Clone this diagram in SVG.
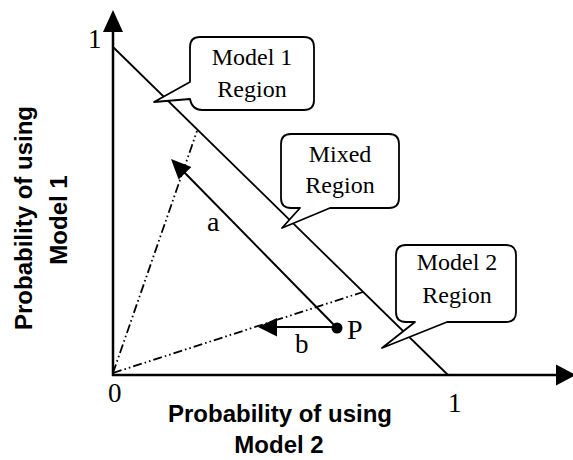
<svg xmlns="http://www.w3.org/2000/svg" width="573" height="460" viewBox="0 0 573 460">
<style>
.ln{stroke:#000;fill:none}
.call{stroke:#000;stroke-width:1.8;fill:#fff;stroke-linejoin:round}
.ser{font-family:"Liberation Serif","Times New Roman",serif;fill:#000}
.ax{font-family:"Liberation Sans",Arial,sans-serif;font-weight:bold;font-size:24px;fill:#000}
.dd{stroke:#000;stroke-width:1.8;fill:none;stroke-dasharray:9 3 1.6 3 1.6 3}
</style>
<rect width="573" height="460" fill="#fff"/>
<g id="connectors">
  <line class="ln" x1="113" y1="376" x2="113" y2="28" stroke-width="2.5"/>
  <polygon points="113,10 103,32 123,32" fill="#000"/>
  <line class="ln" x1="112" y1="375" x2="558" y2="375" stroke-width="2.5"/>
  <polygon points="576,375 556,364.5 556,385.5" fill="#000"/>
  <line class="ln" x1="113" y1="47" x2="448" y2="375" stroke-width="1.8"/>
  <line class="dd" x1="113" y1="373" x2="197" y2="131"/>
  <line class="dd" x1="113" y1="373" x2="363" y2="292"/>
  <line class="ln" x1="337" y1="328" x2="183" y2="171" stroke-width="2"/>
  <polygon points="171,159 191.4,167 178.6,179.6" fill="#000"/>
  <line class="ln" x1="333" y1="327" x2="275" y2="327" stroke-width="2"/>
  <polygon points="258,327 277,318 277,336.5" fill="#000"/>
</g>
<g id="pointP">
  <circle cx="337" cy="328" r="5.5" fill="#000"/>
  <text class="ser" x="347" y="339" font-size="28">P</text>
</g>
<g id="labels">
  <text class="ser" x="207" y="231" font-size="28">a</text>
  <text class="ser" x="295" y="353" font-size="27">b</text>
  <text class="ser" x="88" y="48" font-size="27">1</text>
  <text class="ser" x="108" y="402" font-size="27">0</text>
  <text class="ser" x="448" y="412" font-size="27">1</text>
</g>
<g id="model1-callout">
  <path class="call" d="M200,37 H304 Q314,37 314,47 V100 Q314,110 304,110 H202 Q192,110 190,99 L154,102 L190,82 V47 Q190,37 200,37 Z"/>
  <text class="ser" x="252" y="65" font-size="24" text-anchor="middle">Model 1</text>
  <text class="ser" x="252" y="97" font-size="24" text-anchor="middle">Region</text>
</g>
<g id="mixed-callout">
  <path class="call" d="M291,134 H389 Q399,134 399,144 V198 Q399,208 389,208 H330 L282,228 L300,208 H291 Q281,208 281,198 V144 Q281,134 291,134 Z"/>
  <text class="ser" x="340" y="162" font-size="24" text-anchor="middle">Mixed</text>
  <text class="ser" x="340" y="193" font-size="24" text-anchor="middle">Region</text>
</g>
<g id="model2-callout">
  <path class="call" d="M406,245 H506 Q516,245 516,255 V312 Q516,322 506,322 H447 L382,348 L415,322 H406 Q396,322 396,312 V255 Q396,245 406,245 Z"/>
  <text class="ser" x="457" y="270" font-size="24" text-anchor="middle">Model 2</text>
  <text class="ser" x="457" y="303" font-size="24" text-anchor="middle">Region</text>
</g>
<g id="x-axis-label">
  <text class="ax" x="280" y="422" text-anchor="middle">Probability of using</text>
  <text class="ax" x="279" y="453" text-anchor="middle">Model 2</text>
</g>
<g id="y-axis-label">
  <text class="ax" transform="translate(32,218) rotate(-90)" text-anchor="middle">Probability of using</text>
  <text class="ax" transform="translate(67,220) rotate(-90)" text-anchor="middle">Model 1</text>
</g>
</svg>
